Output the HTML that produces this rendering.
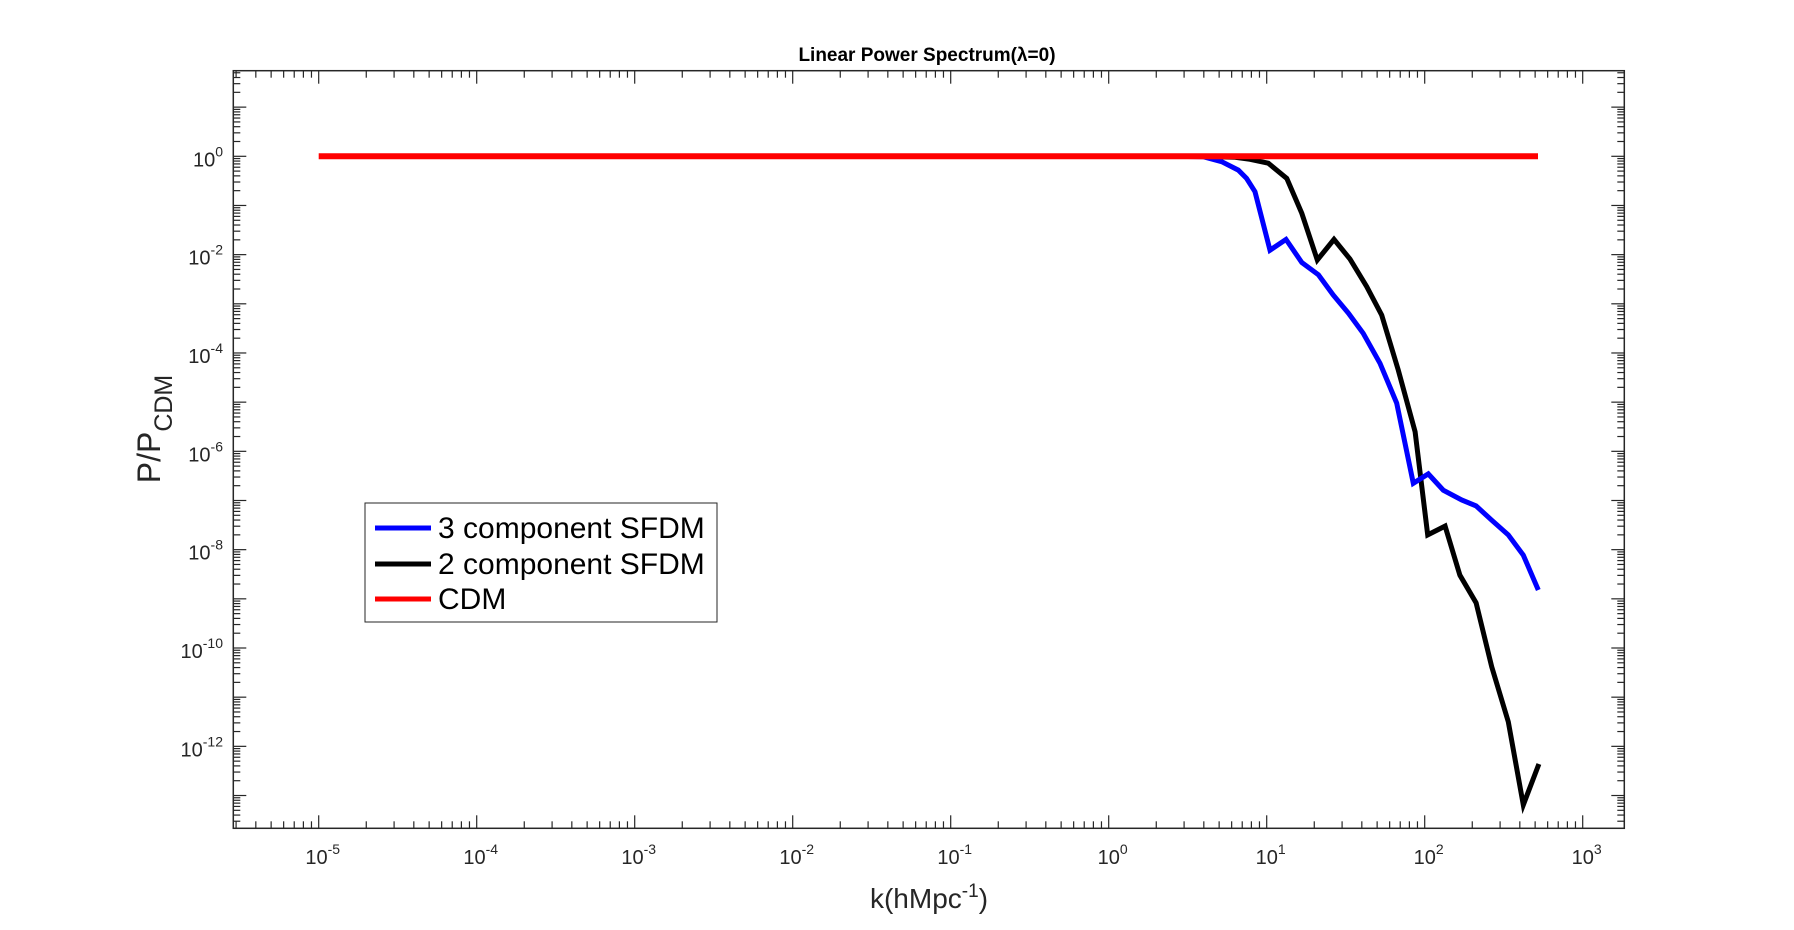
<!DOCTYPE html>
<html><head><meta charset="utf-8"><style>
html,body{margin:0;padding:0;background:#fff;}
svg{display:block;font-family:"Liberation Sans",sans-serif;}
</style></head><body>
<svg id="chart" width="1794" height="930" viewBox="0 0 1794 930" xmlns="http://www.w3.org/2000/svg">
<rect width="1794" height="930" fill="#fff"/>
<text x="927" y="61" text-anchor="middle" font-size="19" font-weight="bold">Linear Power Spectrum(λ=0)</text>
<g id="ticks"></g>
<g id="series"></g>
<rect x="233.3" y="70.7" width="1391" height="757.6" fill="none" stroke="#262626" stroke-width="1.5"/>
<g id="labels" font-size="20" fill="#262626"></g>
<text x="929" y="908" text-anchor="middle" font-size="28" fill="#262626">k(hMpc<tspan dy="-11" font-size="19">-1</tspan><tspan dy="11">)</tspan></text>
<text transform="translate(160,429) rotate(-90)" text-anchor="middle" font-size="32" fill="#262626">P/P<tspan dy="12" font-size="25">CDM</tspan></text>
<g>
<rect x="365" y="503" width="352" height="119" fill="#fff" stroke="#262626" stroke-width="1"/>
<line x1="375" y1="528" x2="431" y2="528" stroke="#0000ff" stroke-width="5"/>
<text x="438" y="538" font-size="30">3 component SFDM</text>
<line x1="375" y1="564" x2="431" y2="564" stroke="#000" stroke-width="5"/>
<text x="438" y="574" font-size="30">2 component SFDM</text>
<line x1="375" y1="599" x2="431" y2="599" stroke="#ff0000" stroke-width="5"/>
<text x="438" y="609" font-size="30">CDM</text>
</g>
</svg>
<script>
const xTickExps = [-5,-4,-3,-2,-1,0,1,2,3];
const yTickExps = [0,-2,-4,-6,-8,-10,-12];
const cdmLogK = [-5, 2.717];
const cdmLogP = [0, 0];
const blueLogK = [0.3,0.45,0.598,0.715,0.82,0.873,0.926,1.021,1.122,1.222,1.327,1.421,1.517,1.611,1.717,1.823,1.928,2.023,2.118,2.234,2.325,2.424,2.529,2.624,2.719];
const blueLogP = [-0.002,-0.003,-0.008,-0.11,-0.28,-0.45,-0.72,-1.91,-1.69,-2.16,-2.41,-2.82,-3.19,-3.60,-4.21,-5.02,-6.65,-6.46,-6.79,-6.99,-7.11,-7.40,-7.70,-8.11,-8.82];
const blackLogK = [0.3,0.6,0.8,0.894,1.010,1.127,1.222,1.320,1.426,1.527,1.633,1.728,1.833,1.939,2.019,2.129,2.223,2.325,2.424,2.529,2.624,2.723];
const blackLogP = [0,-0.005,-0.02,-0.06,-0.14,-0.45,-1.16,-2.11,-1.69,-2.09,-2.65,-3.23,-4.35,-5.60,-7.70,-7.52,-8.52,-9.08,-10.38,-11.50,-13.19,-12.36];

const NS='http://www.w3.org/2000/svg';
const L=233.3,R=1624.3,T=70.7,B=828.3;
function xs(lk){return 318.7+(lk+5)*158.0;}
function ys(lp){return 156.3-lp*49.17;}
function mk(tag,attrs,parent){const e=document.createElementNS(NS,tag);for(const k in attrs)e.setAttribute(k,attrs[k]);parent.appendChild(e);return e;}
const tg=document.getElementById('ticks');
for(let d=-6;d<=3;d++){for(let m=1;m<=9;m++){const lk=d+Math.log10(m);const x=xs(lk);if(x<L||x>R)continue;const len=m===1?13:7;
const t1=mk('line',{x1:x,y1:B,x2:x,y2:B-len,stroke:'#262626','stroke-width':1.2},tg);


const t2=mk('line',{x1:x,y1:T,x2:x,y2:T+len,stroke:'#262626','stroke-width':1.2},tg);

}}
for(let d=-14;d<=2;d++){for(let m=1;m<=9;m++){const lp=d+Math.log10(m);const y=ys(lp);if(y<T||y>B)continue;const len=m===1?13:7;
const t1=mk('line',{x1:L,y1:y,x2:L+len,y2:y,stroke:'#262626','stroke-width':1.2},tg);


const t2=mk('line',{x1:R,y1:y,x2:R-len,y2:y,stroke:'#262626','stroke-width':1.2},tg);

}}
const lg=document.getElementById('labels');
xTickExps.forEach(e=>{const t=mk('text',{x:xs(e)+4,y:864,'text-anchor':'middle'},lg);


t.innerHTML='10<tspan dy="-10" font-size="14">'+e+'</tspan>';});
yTickExps.forEach(e=>{const t=mk('text',{x:223,y:ys(e)+10,'text-anchor':'end'},lg);


t.innerHTML='10<tspan dy="-10" font-size="14">'+e+'</tspan>';});
const sg=document.getElementById('series');
function line(ks,ps,color,w,name){const pts=ks.map((k,i)=>xs(k).toFixed(1)+','+ys(ps[i]).toFixed(1)).join(' ');
const p=mk('polyline',{points:pts,fill:'none',stroke:color,'stroke-width':w,'stroke-linejoin':'miter'},sg);

}
line(blackLogK,blackLogP,'#000',5,'series-2-component-sfdm');
line(blueLogK,blueLogP,'#0000ff',5,'series-3-component-sfdm');
line(cdmLogK,cdmLogP,'#ff0000',6,'series-cdm');
</script>
</body></html>
